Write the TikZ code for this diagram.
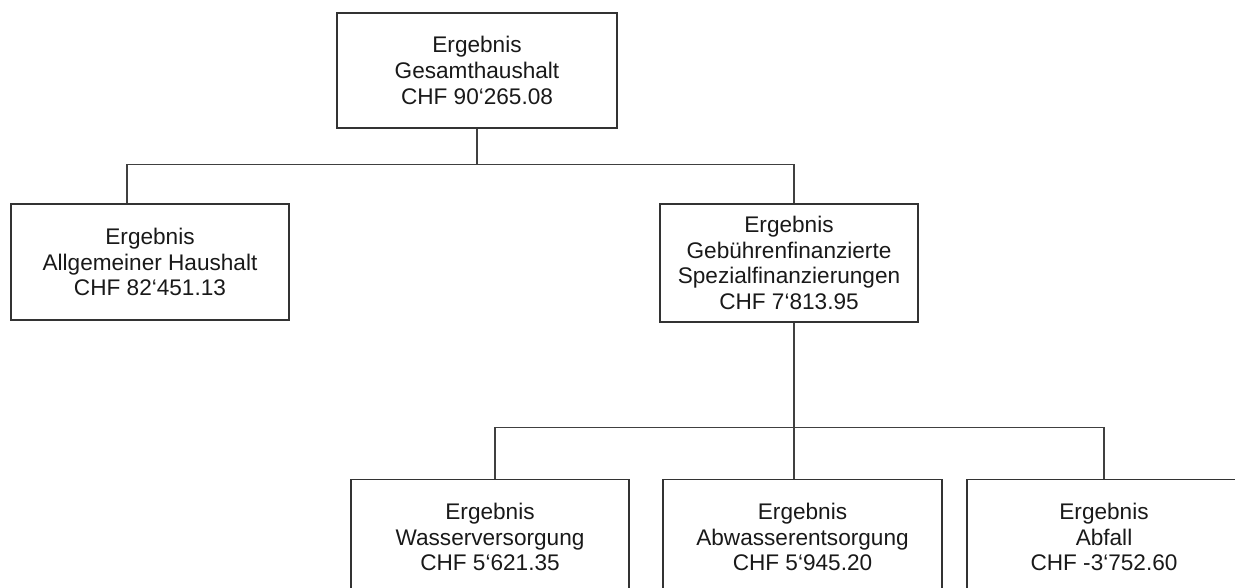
\documentclass[tikz,border=0pt]{standalone}
\usepackage{fontspec}
\setmainfont{Liberation Sans}
\begin{document}
\begin{tikzpicture}[
        x=0.5pt, y=-0.5pt,
        box/.style={rectangle, draw=black!80, line width=0.7pt, align=center,
          inner sep=0pt, font=\fontsize{11.3}{12.9}\selectfont, text=black!90},
        link/.style={draw=black!75, line width=0.6pt}
    ]
      \useasboundingbox (0,0) rectangle (1235,588);
      \clip (0,0) rectangle (1235,588);

      % Gesamthaushalt
      \node[box, minimum width=140pt, minimum height=57.5pt] (total) at (477,70.5)
        {Ergebnis\\Gesamthaushalt\\CHF 90‘265.08};

      % zweite Ebene
      \node[box, minimum width=139pt, minimum height=58pt] (allg) at (150,262)
        {Ergebnis\\Allgemeiner Haushalt\\CHF 82‘451.13};
      \node[box, minimum width=129pt, minimum height=59pt] (geb) at (789,263)
        {Ergebnis\\Gebührenfinanzierte\\Spezialfinanzierungen\\CHF 7‘813.95};

      % dritte Ebene
      \node[box, minimum width=139pt, minimum height=57.5pt] (wasser) at (490,537)
        {Ergebnis\\Wasserversorgung\\CHF 5‘621.35};
      \node[box, minimum width=139.5pt, minimum height=57.5pt] (abwasser) at (802.5,537)
        {Ergebnis\\Abwasserentsorgung\\CHF 5‘945.20};
      \node[box, minimum width=137pt, minimum height=57.5pt] (abfall) at (1104,537)
        {Ergebnis\\Abfall\\CHF -3‘752.60};

      % Verbindungen
      \draw[link] (total.south) -- ++(0,36) coordinate (j1);
      \draw[link] ([xshift=-11.5pt]allg.north) |- (j1) -| ([xshift=2.5pt]geb.north);
      \draw[link] ([xshift=2.5pt]geb.south) -- ++(0,105) coordinate (j2);
      \draw[link] ([xshift=2.5pt]wasser.north) |- (j2) -| (abfall.north);
      \draw[link] (j2) -- ([xshift=-4.25pt]abwasser.north);
    \end{tikzpicture}
\end{document}
